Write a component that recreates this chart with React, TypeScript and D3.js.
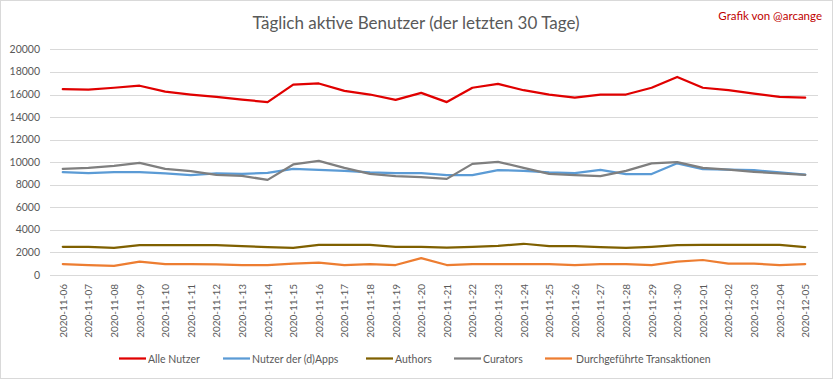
import React from "react";
import * as d3 from "d3";

const dates = [
  "2020-11-06","2020-11-07","2020-11-08","2020-11-09","2020-11-10","2020-11-11","2020-11-12","2020-11-13","2020-11-14","2020-11-15",
  "2020-11-16","2020-11-17","2020-11-18","2020-11-19","2020-11-20","2020-11-21","2020-11-22","2020-11-23","2020-11-24","2020-11-25",
  "2020-11-26","2020-11-27","2020-11-28","2020-11-29","2020-11-30","2020-12-01","2020-12-02","2020-12-03","2020-12-04","2020-12-05",
];

const alleNutzer = [
  16480, 16430, 16600, 16780, 16250, 16000, 15800, 15550, 15330, 16880,
  16980, 16330, 16000, 15520, 16150, 15330, 16600, 16950, 16380, 16000,
  15720, 16000, 16000, 16600, 17560, 16600, 16380, 16080, 15790, 15720,
];
const dApps = [
  9120, 9040, 9110, 9110, 9000, 8860, 9000, 8960, 9060, 9400,
  9320, 9230, 9100, 9040, 9040, 8860, 8860, 9300, 9230, 9100,
  9040, 9320, 8950, 8950, 9900, 9380, 9350, 9290, 9100, 8900,
];
const authors = [
  2500, 2500, 2400, 2650, 2650, 2650, 2650, 2560, 2480, 2400,
  2680, 2680, 2680, 2500, 2500, 2420, 2500, 2580, 2770, 2570,
  2560, 2480, 2400, 2500, 2650, 2680, 2680, 2680, 2680, 2480,
];
const curators = [
  9410, 9500, 9670, 9940, 9410, 9200, 8880, 8790, 8430, 9800,
  10120, 9500, 8970, 8760, 8670, 8520, 9850, 10030, 9500, 8970,
  8850, 8760, 9230, 9890, 10000, 9500, 9350, 9150, 9000, 8880,
];
const transaktionen = [
  970, 885, 800, 1180, 970, 970, 950, 885, 885, 1000,
  1090, 885, 970, 885, 1500, 885, 970, 970, 970, 970,
  885, 970, 970, 885, 1180, 1330, 1000, 1000, 885, 970,
];

const seriesNames = ["Alle Nutzer", "Nutzer der (d)Apps", "Authors", "Curators", "Durchgeführte Transaktionen"];
const seriesColors = ["#E00000", "#5B9BD5", "#7F6000", "#7F7F7F", "#ED7D31"];
const yTicks = [0, 2000, 4000, 6000, 8000, 10000, 12000, 14000, 16000, 18000, 20000];

const titleText = "Täglich aktive Benutzer (der letzten 30 Tage)";
const creditText = "Grafik von @arcange";

const W = 833;
const H = 379;
const FONT = "Lato, 'Open Sans', sans-serif";

export default function App() {
  const seriesData = [alleNutzer, dApps, authors, curators, transaktionen];
  const x = d3.scaleBand<string>().domain(dates).range([50, 818]);
  const y = d3.scaleLinear().domain([0, 20000]).range([275, 49.4]);
  const cx = (d: string) => (x(d) ?? 0) + x.bandwidth() / 2;
  const line = (vals: number[]) =>
    d3.line<number>().x((_, i) => cx(dates[i])).y((v) => y(v))(vals) ?? "";

  const legendItems = [
    { lx: 119, tx: 148 },
    { lx: 223, tx: 252 },
    { lx: 366, tx: 395 },
    { lx: 454, tx: 483 },
    { lx: 545, tx: 576 },
  ];

  return (
    <svg
      width={W}
      height={H}
      style={{ position: "absolute", left: 0, top: 0, display: "block", background: "#fff" }}
      fontFamily={FONT}
    >
      <rect x={0.5} y={0.5} width={W - 1} height={H - 1} fill="#fff" stroke="#D9D9D9" />
      <text x={416} y={29} textAnchor="middle" fontSize={17} fill="#595959">
        {titleText}
      </text>
      <text x={822} y={20} textAnchor="end" fontSize={11.5} fill="#C00000">
        {creditText}
      </text>
      {yTicks.map((t) => (
        <g key={t}>
          <line x1={50} x2={818} y1={Math.round(y(t)) + 0.5} y2={Math.round(y(t)) + 0.5} stroke="#D9D9D9" strokeWidth={1} />
          <text x={40} y={y(t) + 3.5} textAnchor="end" fontSize={10.5} fill="#595959">
            {t}
          </text>
        </g>
      ))}
      {dates.map((d) => (
        <text
          key={d}
          transform={`translate(${cx(d) + 4},${284}) rotate(-90)`}
          textAnchor="end"
          fontSize={10}
          fill="#595959"
        >
          {d}
        </text>
      ))}
      {seriesData.map((vals, i) => (
        <path key={i} d={line(vals)} fill="none" stroke={seriesColors[i]} strokeWidth={2.25} strokeLinejoin="round" strokeLinecap="round" />
      ))}
      {seriesNames.map((n, i) => (
        <g key={n}>
          <line x1={legendItems[i].lx} x2={legendItems[i].lx + 27} y1={358.5} y2={358.5} stroke={seriesColors[i]} strokeWidth={2.25} />
          <text x={legendItems[i].tx} y={362.5} fontSize={10.5} fill="#595959">
            {n}
          </text>
        </g>
      ))}
    </svg>
  );
}
